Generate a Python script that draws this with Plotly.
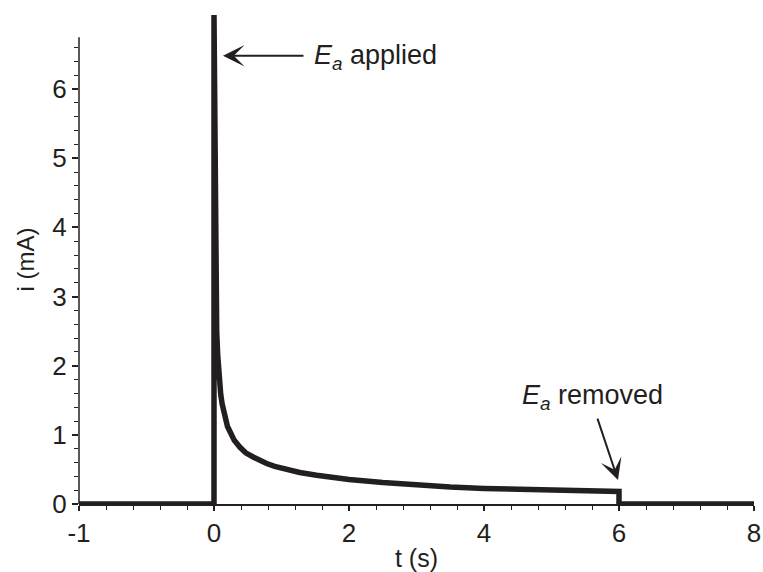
import plotly.graph_objects as go

# Time axis (axis units; the pre-step segment is drawn compressed as in the original: label "-1" sits at -2)
t_values = [-2, 0, 0, 0.015, 0.028, 0.04, 0.055, 0.07, 0.085, 0.1, 0.12, 0.14, 0.17, 0.2, 0.24,
            0.3, 0.385, 0.47, 0.58, 0.68, 0.78, 0.9, 1.03, 1.27, 1.52, 1.77, 2.0, 2.5, 3.0, 3.5,
            4.0, 4.5, 5.0, 5.5, 6.0, 6.0, 8.0]
i_values = [0, 0, 7.07, 4.0, 3.0, 2.5, 2.15, 1.9, 1.72, 1.58, 1.45, 1.35, 1.22, 1.12, 1.04,
            0.92, 0.82, 0.74, 0.68, 0.625, 0.585, 0.545, 0.51, 0.456, 0.417, 0.384, 0.355, 0.31, 0.27, 0.245,
            0.225, 0.21, 0.2, 0.19, 0.18, 0, 0]

x_tickvals = [-2, 0, 2, 4, 6, 8]
x_ticktext = ["-1", "0", "2", "4", "6", "8"]
y_tickvals = [0, 1, 2, 3, 4, 5, 6]
y_minor_tickvals = [round(k * 0.2, 1) for k in range(34) if k % 5 != 0]
y_axis_top = 6.75

INK = "#231f20"
FONT = "Liberation Sans, Arial, Helvetica, sans-serif"

fig = go.Figure()
fig.add_trace(go.Scatter(
    x=t_values, y=i_values, mode="lines",
    line=dict(color=INK, width=5.5),
    cliponaxis=False, showlegend=False, hoverinfo="skip",
))

fig.update_layout(
    width=763, height=572,
    margin=dict(l=79, r=9, t=15, b=68),
    paper_bgcolor="white", plot_bgcolor="white",
    font=dict(family=FONT, size=26, color=INK),
    xaxis=dict(
        range=[-2, 8], showgrid=False, zeroline=False, automargin=False,
        showline=True, linecolor=INK, linewidth=1.5,
        tickmode="array", tickvals=x_tickvals, ticktext=x_ticktext,
        ticks="outside", ticklen=5, tickwidth=1.5, tickcolor=INK,
        minor=dict(dtick=0.4, tick0=0, ticks="outside", ticklen=4, tickwidth=1.2, tickcolor=INK, showgrid=False),
        title=dict(text="t (s)", standoff=6, font=dict(size=25)),
        tickfont=dict(size=26),
    ),
    yaxis=dict(
        range=[0, 7.07], showgrid=False, zeroline=False, automargin=False,
        showline=False,
        tickmode="array", tickvals=y_tickvals,
        ticks="outside", ticklen=6, tickwidth=1.5, tickcolor=INK,
        minor=dict(tickmode="array", tickvals=y_minor_tickvals, ticks="outside", ticklen=4,
                   tickwidth=1.2, tickcolor=INK, showgrid=False),
        title=dict(text="i (mA)", standoff=10, font=dict(size=24)),
        tickfont=dict(size=26),
    ),
)

# y axis line (stops short of the spike)
fig.add_shape(type="line", xref="paper", yref="y", x0=0, x1=0, y0=0, y1=y_axis_top,
              line=dict(color=INK, width=1.5), layer="above")

# Arrows
fig.add_annotation(x=0.133, y=6.48, xref="x", yref="y", text="", showarrow=True,
                   ax=82, ay=0, arrowhead=3, arrowsize=1.8, arrowwidth=2, arrowcolor=INK, standoff=0)
fig.add_annotation(x=5.985, y=0.346, xref="x", yref="y", text="", showarrow=True,
                   ax=-21, ay=-63, arrowhead=3, arrowsize=1.8, arrowwidth=2, arrowcolor=INK, standoff=0)

# Labels
fig.add_annotation(x=1.45, y=6.46, xref="x", yref="y", text="<i>E<sub>a</sub></i> applied",
                   showarrow=False, xanchor="left", yanchor="middle", font=dict(size=27, color=INK))
fig.add_annotation(x=4.53, y=1.55, xref="x", yref="y", text="<i>E<sub>a</sub></i> removed",
                   showarrow=False, xanchor="left", yanchor="middle", font=dict(size=27, color=INK))

fig.write_html("out.html")
